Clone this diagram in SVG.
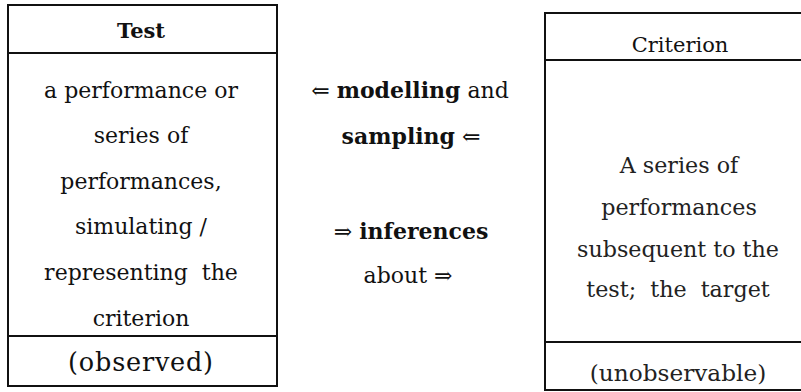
<svg xmlns="http://www.w3.org/2000/svg" width="801" height="392" viewBox="0 0 801 392">
  <style>
    .box { fill: none; stroke: #111; stroke-width: 2; }
    .sep { stroke: #111; stroke-width: 2; }
    text { font-family: "DejaVu Serif", "Liberation Serif", serif; fill: #111; text-anchor: middle; }
    .body { font-size: 22px; }
    .head { font-size: 21px; }
    .light { font-size: 22.2px; fill: #222; }
    .foot { font-size: 25.5px; letter-spacing: 0.8px; }
    .b { font-weight: bold; }
  </style>
  <rect width="801" height="392" fill="#fff"/>

  <!-- Test box -->
  <g id="test">
    <rect class="box" x="8" y="5" width="269" height="381"/>
    <line class="sep" x1="8" y1="53" x2="277" y2="53"/>
    <line class="sep" x1="8" y1="336" x2="277" y2="336"/>
    <text class="head b" x="141" y="38">Test</text>
    <text class="body" x="141" y="98">a performance or</text>
    <text class="body" x="141" y="143">series of</text>
    <text class="body" x="141" y="189">performances,</text>
    <text class="body" x="141" y="234">simulating /</text>
    <text class="body" x="141" y="280" xml:space="preserve">representing  the</text>
    <text class="body" x="141" y="326">criterion</text>
    <text class="foot" x="141" y="371">(observed)</text>
  </g>

  <!-- Relations between the two boxes -->
  <g id="relations">
    <text class="body" x="410" y="98">⇐ <tspan class="b">modelling</tspan> and</text>
    <text class="body" x="411" y="144"><tspan class="b">sampling</tspan> ⇐</text>
    <text class="body" x="411" y="239">⇒ <tspan class="b">inferences</tspan></text>
    <text class="body" x="408" y="283">about ⇒</text>
  </g>

  <!-- Criterion box -->
  <g id="criterion">
    <rect class="box" x="545" y="13" width="270" height="377"/>
    <line class="sep" x1="545" y1="60" x2="815" y2="60"/>
    <line class="sep" x1="545" y1="342" x2="815" y2="342"/>
    <text class="head" x="680" y="52">Criterion</text>
    <text class="light" x="679" y="173">A series of</text>
    <text class="light" x="679" y="215">performances</text>
    <text class="light" x="678" y="257">subsequent to the</text>
    <text class="light" x="678" y="297" xml:space="preserve">test;  the  target</text>
    <text class="light" x="678" y="381" style="font-size:23.2px">(unobservable)</text>
  </g>
</svg>
